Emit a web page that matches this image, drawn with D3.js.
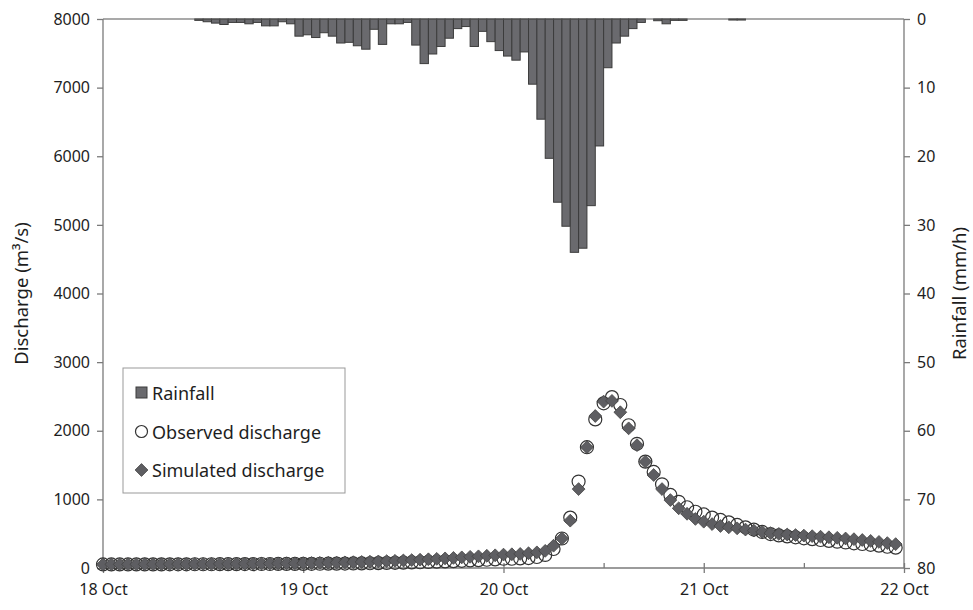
<html><head>
<script src="https://d3js.org/d3.v7.min.js"></script>
<style>
  body { margin: 0; background: #fff; }
  text { font-family: "Noto Sans", sans-serif; fill: #1e1e1e; }
</style>
</head>
<body>
<svg id="chart" width="973" height="610"></svg>
<script>
// hourly values, 18 Oct 00:00 .. 21 Oct 23:00
const dayLabels = ["18 Oct", "19 Oct", "20 Oct", "21 Oct", "22 Oct"];
const dischargeTicks = [0, 1000, 2000, 3000, 4000, 5000, 6000, 7000, 8000];
const rainTicks = [0, 10, 20, 30, 40, 50, 60, 70, 80];

const rainfall = [0, 0, 0, 0, 0, 0, 0, 0, 0, 0,
                  0, 0.2, 0.4, 0.6, 0.8, 0.5, 0.5, 0.7, 0.5, 1.0,
                  1.0, 0.4, 0.7, 2.5, 2.3, 2.7, 2.0, 2.5, 3.5, 3.4,
                  3.9, 4.4, 1.5, 3.7, 0.7, 0.7, 0.5, 3.8, 6.5, 5.1,
                  4.0, 2.8, 1.4, 1.1, 4.0, 1.8, 3.3, 4.6, 5.4, 6.0,
                  4.8, 9.5, 14.6, 20.3, 26.7, 30.2, 34.0, 33.4, 27.2, 18.5,
                  7.1, 3.5, 2.5, 1.4, 0.5, 0, 0.25, 0.7, 0.2, 0.2,
                  0, 0, 0, 0, 0, 0.15, 0.15, 0, 0, 0,
                  0, 0, 0, 0, 0, 0, 0, 0, 0, 0,
                  0, 0, 0, 0, 0, 0];

const observed = [52, 52, 52, 52, 53, 53, 53, 53, 54, 54,
                  54, 55, 55, 55, 56, 56, 56, 57, 57, 58,
                  58, 59, 59, 60, 60, 61, 62, 63, 64, 65,
                  66, 67, 69, 71, 73, 75, 78, 81, 84, 88,
                  92, 96, 100, 105, 110, 115, 120, 125, 135, 135,
                  140, 145, 160, 190, 277, 430, 735, 1260, 1760, 2165,
                  2400, 2490, 2375, 2080, 1810, 1550, 1400, 1220, 1065, 965,
                  885, 820, 780, 735, 700, 665, 627, 593, 560, 525,
                  495, 475, 460, 447, 433, 420, 408, 395, 383, 372,
                  360, 350, 338, 325, 310, 296];

const simulated = [52, 53, 53, 54, 54, 55, 55, 56, 56, 57,
                   57, 58, 58, 59, 60, 60, 61, 62, 63, 64,
                   65, 66, 67, 68, 70, 72, 74, 76, 79, 82,
                   85, 88, 92, 96, 100, 105, 110, 115, 121, 127,
                   133, 140, 147, 155, 163, 170, 178, 185, 195, 200,
                   205, 215, 228, 250, 325, 430, 690, 1150, 1760, 2215,
                   2425, 2435, 2270, 2035, 1790, 1550, 1355, 1150, 990, 870,
                   790, 715, 675, 640, 612, 593, 578, 560, 545, 525,
                   508, 497, 488, 480, 472, 464, 456, 448, 440, 430,
                   420, 408, 395, 380, 363, 348];

let svg = d3.select("svg#chart");

const plotLeft = 103, plotRight = 904, plotTop = 19, plotBottom = 568;

let xScale = d3.scaleLinear().domain([0, 96]).range([plotLeft, plotRight]);
let yQ = d3.scaleLinear().domain([0, 8000]).range([plotBottom, plotTop]);
let yR = d3.scaleLinear().domain([0, 80]).range([plotTop, plotBottom]);

const axisColor = "#7a7a7a";

// rainfall bars hanging from the top, one per hour
let barG = svg.append("g");
rainfall.forEach((d, i) => {
  if (d <= 0) return;
  barG.append("rect")
      .attr("x", xScale(i))
      .attr("y", yR(0))
      .attr("width", xScale(i + 1) - xScale(i))
      .attr("height", yR(d) - yR(0))
      .style("fill", "#6a6a6e")
      .style("stroke", "#3c3c3c")
      .style("stroke-width", 1);
});

// top line (rainfall baseline)
svg.append("line")
   .attr("x1", plotLeft).attr("x2", plotRight)
   .attr("y1", plotTop).attr("y2", plotTop)
   .style("stroke", "#555").style("stroke-width", 1.2);

// left axis
let gL = svg.append("g").attr("transform", `translate(${plotLeft},0)`)
   .call(d3.axisLeft(yQ).tickValues(dischargeTicks).tickSize(6).tickPadding(7).tickFormat(d3.format("d")));
// right axis
let gR = svg.append("g").attr("transform", `translate(${plotRight},0)`)
   .call(d3.axisRight(yR).tickValues(rainTicks).tickSize(6).tickPadding(7));
// bottom axis with day labels
let gB = svg.append("g").attr("transform", `translate(0,${plotBottom})`)
   .call(d3.axisBottom(xScale).tickValues([0, 24, 48, 72, 96]).tickSize(5).tickPadding(11)
         .tickFormat((d, i) => dayLabels[i]));
gB.selectAll(".tick line").attr("y1", -5);
// half-day minor ticks
svg.append("g").attr("transform", `translate(0,${plotBottom})`)
   .call(d3.axisBottom(xScale).tickValues([12, 36, 60, 84]).tickSize(-5).tickFormat(""))
   .select(".domain").remove();

[gL, gR, gB].forEach(g => {
  g.select(".domain").style("stroke", axisColor).style("stroke-width", 1.3);
  g.selectAll(".tick text").style("font-size", "16px").style("fill", "#1e1e1e")
   .style("font-family", "Noto Sans");
});
svg.selectAll(".tick line").style("stroke", axisColor).style("stroke-width", 1.3);
gL.select(".domain").attr("d", `M0,${plotBottom}V${plotTop}`);
gR.select(".domain").attr("d", `M0,${plotTop}V${plotBottom}`);
gB.select(".domain").attr("d", `M${plotLeft},0H${plotRight}`);

// axis titles
svg.append("text")
   .text("Discharge (m³/s)")
   .attr("transform", `translate(23,${(plotTop + plotBottom) / 2}) rotate(-90)`)
   .style("text-anchor", "middle")
   .style("dominant-baseline", "middle")
   .style("font-size", "18.5px");

svg.append("text")
   .text("Rainfall (mm/h)")
   .attr("transform", `translate(961,${(plotTop + plotBottom) / 2}) rotate(-90)`)
   .style("text-anchor", "middle")
   .style("dominant-baseline", "middle")
   .style("font-size", "18.5px");

// observed discharge: open circles
svg.append("g").selectAll("circle")
   .data(observed)
   .join("circle")
   .attr("cx", (d, i) => xScale(i))
   .attr("cy", d => yQ(d))
   .attr("r", 6.5)
   .style("fill", "none")
   .style("stroke", "#333")
   .style("stroke-width", 1.2);

// simulated discharge: filled diamonds
const diamond = d3.symbol().type(d3.symbolDiamond2).size(105);
svg.append("g").selectAll("path")
   .data(simulated)
   .join("path")
   .attr("d", diamond)
   .attr("transform", (d, i) => `translate(${xScale(i)},${yQ(d)})`)
   .style("fill", "#5e5e62")
   .style("stroke", "#444")
   .style("stroke-width", 0.8);

// legend
let lg = svg.append("g");
lg.append("rect")
  .attr("x", 123).attr("y", 368).attr("width", 222).attr("height", 125)
  .style("fill", "#fff").style("stroke", "#999").style("stroke-width", 1);

const legendRows = ["Rainfall", "Observed discharge", "Simulated discharge"];
legendRows.forEach((name, i) => {
  let cy = 393 + i * 38.5;
  if (i === 0) {
    lg.append("rect").attr("x", 136).attr("y", cy - 6).attr("width", 11).attr("height", 11)
      .style("fill", "#6a6a6e").style("stroke", "#3c3c3c");
  } else if (i === 1) {
    lg.append("circle").attr("cx", 141.5).attr("cy", cy).attr("r", 6)
      .style("fill", "none").style("stroke", "#333").style("stroke-width", 1.2);
  } else {
    lg.append("path").attr("d", diamond).attr("transform", `translate(141.5,${cy})`)
      .style("fill", "#5e5e62").style("stroke", "#444").style("stroke-width", 0.8);
  }
  lg.append("text").text(name)
    .attr("x", 152).attr("y", cy)
    .style("dominant-baseline", "central")
    .style("font-size", "18px");
});
</script>
</body>
</html>
